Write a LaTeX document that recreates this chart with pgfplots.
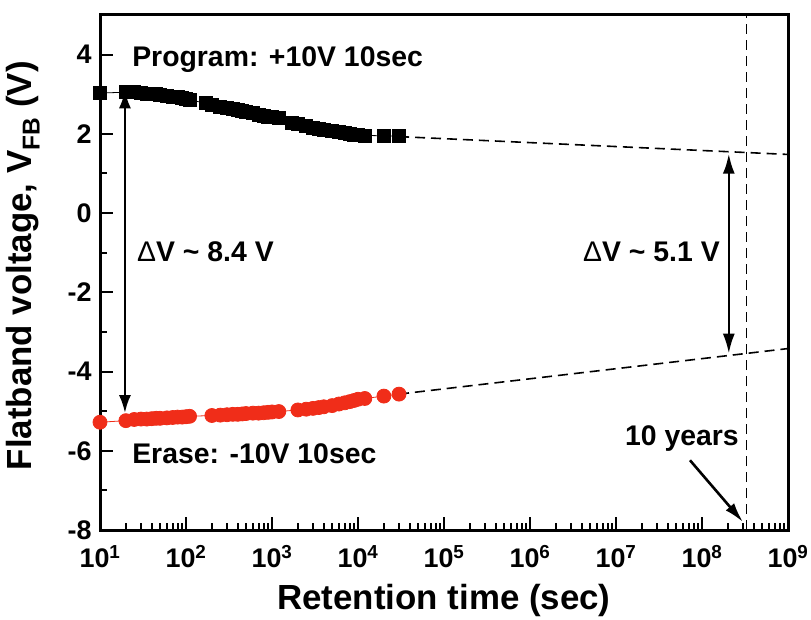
\documentclass[border=0pt]{standalone}
\usepackage{fontspec}
\setmainfont{Liberation Sans}
\usepackage{pgfplots}
\pgfplotsset{compat=1.18}
\usetikzlibrary{arrows.meta}
\definecolor{ered}{RGB}{240,45,25}

\pgfplotstableread{
t V
10 3.03
20 3.05
25 3.05
30 3.03
35 3.02
40 3.01
45 3.00
50 2.99
60 2.96
70 2.94
80 2.92
90 2.90
100 2.88
110 2.86
170 2.77
200 2.74
250 2.69
300 2.66
350 2.63
400 2.60
450 2.58
500 2.56
600 2.52
700 2.49
800 2.46
900 2.44
1000 2.42
1200 2.39
1700 2.27
2000 2.24
2500 2.19
3000 2.15
3500 2.12
4000 2.10
5000 2.07
6000 2.04
7000 2.02
8000 2.00
9000 1.98
10000 1.97
12000 1.96
20000 1.95
30000 1.94
}\program

\pgfplotstableread{
t V
10 -5.28
20 -5.24
25 -5.21
30 -5.20
35 -5.20
40 -5.19
45 -5.18
50 -5.18
60 -5.17
70 -5.16
80 -5.15
90 -5.15
100 -5.14
110 -5.13
200 -5.11
250 -5.10
300 -5.09
350 -5.08
400 -5.08
450 -5.07
500 -5.06
600 -5.05
700 -5.05
800 -5.04
900 -5.03
1000 -5.02
1200 -5.01
2000 -4.97
2500 -4.95
3000 -4.93
3500 -4.91
4000 -4.89
5000 -4.86
6000 -4.82
7000 -4.79
8000 -4.76
9000 -4.73
10000 -4.70
12000 -4.68
20000 -4.62
30000 -4.57
}\erase

\begin{document}
\begin{tikzpicture}
\path[use as bounding box] (-100bp,-90bp) rectangle (711bp,530bp);
\begin{axis}[
  at={(0,0)}, anchor=south west,
  width=688bp, height=515bp, scale only axis,
  xmode=log, xmin=10, xmax=1e9, ymin=-8, ymax=5,
  clip=false,
  axis line style={line width=3bp},
  tick align=inside,
  xtick pos=bottom, ytick pos=left,
  major tick length=13bp, minor tick length=7bp,
  every tick/.style={line width=2bp, black},
  xtick={1e1,1e2,1e3,1e4,1e5,1e6,1e7,1e8,1e9},
  xticklabels={10\textsuperscript{1},10\textsuperscript{2},10\textsuperscript{3},10\textsuperscript{4},10\textsuperscript{5},10\textsuperscript{6},10\textsuperscript{7},10\textsuperscript{8},10\textsuperscript{9}},
  minor xtick={2e1,3e1,4e1,5e1,6e1,7e1,8e1,9e1,
    2e2,3e2,4e2,5e2,6e2,7e2,8e2,9e2,
    2e3,3e3,4e3,5e3,6e3,7e3,8e3,9e3,
    2e4,3e4,4e4,5e4,6e4,7e4,8e4,9e4,
    2e5,3e5,4e5,5e5,6e5,7e5,8e5,9e5,
    2e6,3e6,4e6,5e6,6e6,7e6,8e6,9e6,
    2e7,3e7,4e7,5e7,6e7,7e7,8e7,9e7,
    2e8,3e8,4e8,5e8,6e8,7e8,8e8,9e8},
  ytick={-8,-6,-4,-2,0,2,4},
  yticklabels={-8,-6,-4,-2,0,2,4},
  minor ytick={-7,-5,-3,-1,1,3},
  every tick label/.append style={font=\bfseries\fontsize{27}{30}\selectfont},
  xticklabel style={yshift=-12bp},
  yticklabel style={xshift=-5bp},
  xlabel={Retention time (sec)},
  ylabel={Flatband voltage, V\textsubscript{FB} (V)},
  label style={font=\bfseries\fontsize{35}{38}\selectfont},
  xlabel style={at={(axis description cs:0.5,-0.136)}, anchor=center},
  ylabel style={at={(axis description cs:-0.112,0.513)}, anchor=center},
]
% extrapolations
\addplot[black, line width=1.6bp, dash pattern=on 10bp off 6bp] coordinates {(3e4,1.93) (1e9,1.48)};
\addplot[black, line width=1.6bp, dash pattern=on 10bp off 6bp] coordinates {(3e4,-4.57) (1e9,-3.42)};
\addplot[black, line width=1.6bp, dash pattern=on 10bp off 6bp] coordinates {(3.3e8,-8) (3.3e8,5)};
% data
\addplot[black, line width=0.8bp, mark=square*, mark size=6.5bp, mark options={solid}] table[x=t,y=V] {\program};
\addplot[ered, line width=0.8bp, mark=*, mark size=7bp, mark options={solid, fill=ered, draw=ered}] table[x=t,y=V] {\erase};
% arrows
\draw[line width=2.6bp, {Latex[length=18bp,width=12bp]}-{Latex[length=18bp,width=12bp]}] (axis cs:19.5,3.1) -- (axis cs:19.5,-5.05);
\draw[line width=2.6bp, {Latex[length=20bp,width=12bp]}-{Latex[length=20bp,width=12bp]}] (axis cs:2.05e8,1.5) -- (axis cs:2.05e8,-3.55);
\draw[line width=2.6bp, -{Latex[length=20bp,width=11bp]}] (axis cs:7.25e7,-6.24) -- (axis cs:3.0e8,-7.8);
% texts
\node[anchor=base west, inner sep=0pt, font=\bfseries\fontsize{28.5}{32}\selectfont] at (axis cs:23.6,3.70) {Program: +10V 10sec};
\node[anchor=base west, inner sep=0pt, font=\bfseries\fontsize{28.5}{32}\selectfont] at (axis cs:23.6,-6.31) {Erase: -10V 10sec};
\node[anchor=base west, inner sep=0pt, font=\bfseries\fontsize{28.5}{32}\selectfont] at (axis cs:26.9,-1.21) {{\mdseries Δ}V \textasciitilde{} 8.4 V};
\node[anchor=base west, inner sep=0pt, font=\bfseries\fontsize{28.5}{32}\selectfont] at (axis cs:4.13e6,-1.21) {{\mdseries Δ}V \textasciitilde{} 5.1 V};
\node[anchor=base west, inner sep=0pt, font=\bfseries\fontsize{28.5}{32}\selectfont] at (axis cs:1.27e7,-5.86) {10 years};
\end{axis}
\end{tikzpicture}
\end{document}
